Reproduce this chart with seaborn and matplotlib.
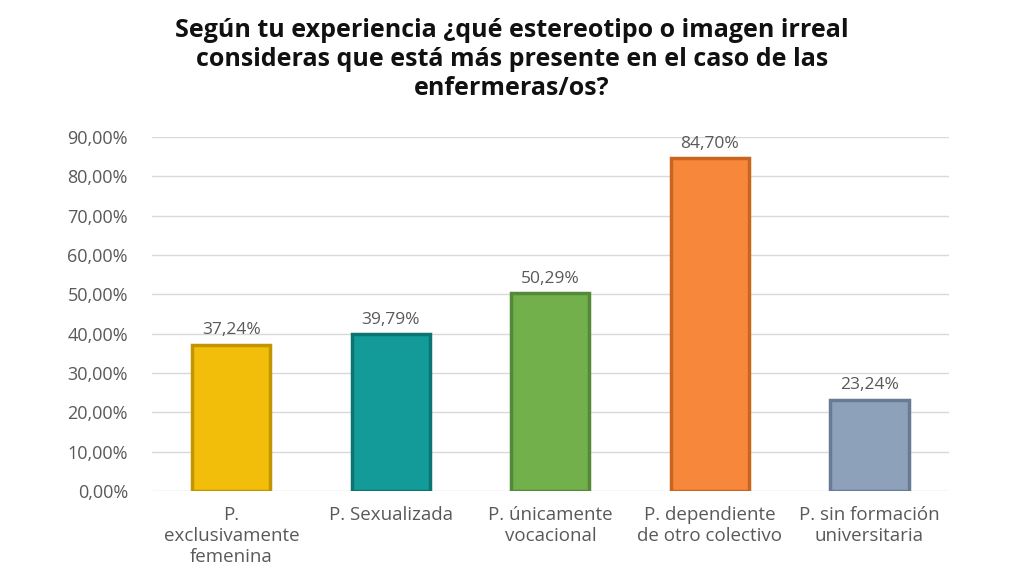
import matplotlib
matplotlib.use("Agg")
import matplotlib.pyplot as plt
import seaborn as sns
import pandas as pd
from matplotlib.ticker import FuncFormatter

# Chart data
categories = ["P.\nexclusivamente\nfemenina", "P. Sexualizada", "P. únicamente\nvocacional",
              "P. dependiente\nde otro colectivo", "P. sin formación\nuniversitaria"]
values = [37.24, 39.79, 50.29, 84.70, 23.24]
bar_colors = ["#F2BE0A", "#139B99", "#71B04A", "#F7873A", "#8DA1BB"]
edge_colors = ["#C29500", "#0C7472", "#55893A", "#C9651F", "#687B94"]
title = "Según tu experiencia ¿qué estereotipo o imagen irreal\nconsideras que está más presente en el caso de las\nenfermeras/os?"

df = pd.DataFrame({"category": categories, "value": values})

sns.set_style("white")
plt.rcParams["font.family"] = ["Open Sans", "DejaVu Sans"]

fig = plt.figure(figsize=(10.24, 5.76), dpi=100)
ax = fig.add_axes([0.148, 0.1476, 0.779, 0.6146])

sns.barplot(data=df, x="category", y="value", hue="category", palette=bar_colors,
            saturation=1, width=0.49, legend=False, ax=ax, zorder=3)

for patch, ec in zip(ax.patches, edge_colors):
    patch.set_edgecolor(ec)
    patch.set_linewidth(2.5)

for i, v in enumerate(values):
    ax.text(i, v + 1.6, f"{v:.2f}%".replace(".", ","), ha="center", va="bottom",
            fontsize=12.5, color="#595959")

ax.set_ylim(0, 90)
ax.set_xlim(-0.5, 4.5)
ax.set_yticks(range(0, 91, 10))
ax.yaxis.set_major_formatter(FuncFormatter(lambda y, _: f"{y:.2f}%".replace(".", ",")))
ax.grid(axis="y", color="#D9D9D9", linewidth=1, zorder=0)
for s in ax.spines.values():
    s.set_visible(False)
ax.tick_params(axis="y", length=0, labelsize=13, labelcolor="#595959", pad=17)
ax.tick_params(axis="x", length=0, labelsize=13.5, labelcolor="#595959", pad=11)
for lbl in ax.get_xticklabels():
    lbl.set_linespacing(1.2)
ax.set_xlabel("")
ax.set_ylabel("")

fig.text(0.5, 0.968, title, ha="center", va="top", fontsize=18, fontweight="bold",
         color="#111111", linespacing=1.2)

fig.savefig("out.png", dpi=100)
